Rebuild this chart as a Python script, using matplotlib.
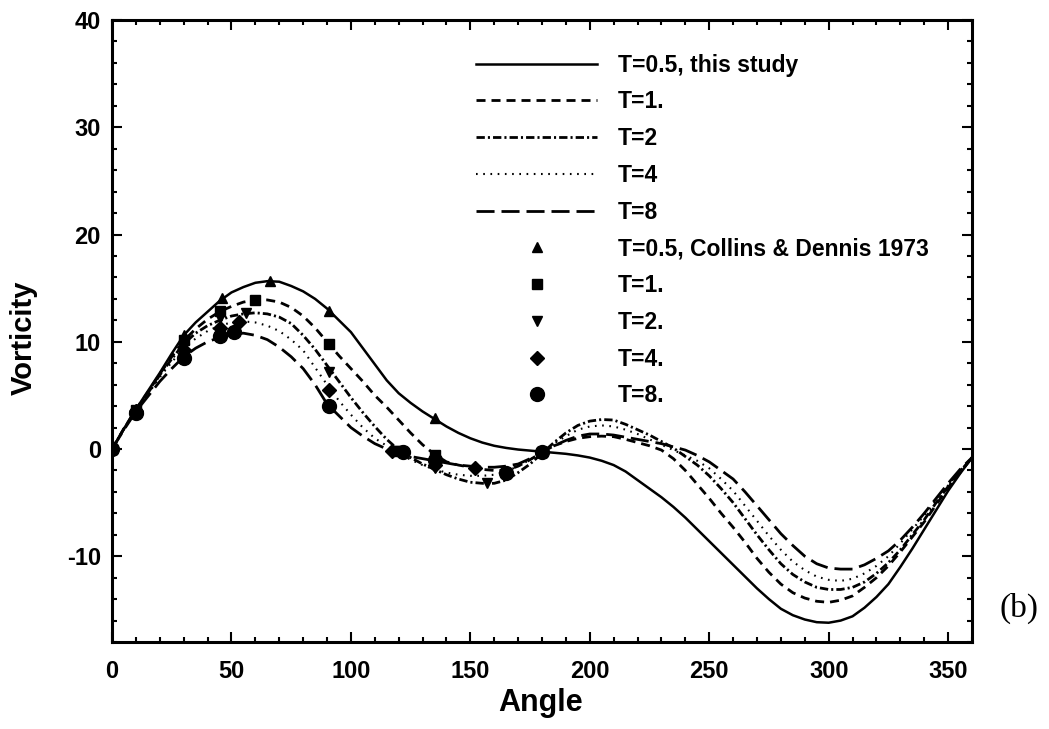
import numpy as np
import matplotlib
matplotlib.use("Agg")
import matplotlib.pyplot as plt
from matplotlib.ticker import MultipleLocator

plt.rcParams['font.family'] = ['Liberation Sans', 'DejaVu Sans']
plt.rcParams['lines.scale_dashes'] = False
plt.rcParams['axes.unicode_minus'] = False

# 角度，每5度一个点
angle = np.arange(0, 361, 5)

# 本文计算结果
w_t05 = [0, 1.9, 3.7, 5.4, 7.1, 8.9, 10.6, 11.8, 12.8, 13.8, 14.6, 15.1, 15.5, 15.65,
         15.6, 15.2, 14.7, 14.0, 13.1, 12.0, 10.9, 9.4, 7.9, 6.4, 5.2, 4.3, 3.5, 2.8,
         2.1, 1.5, 1.0, 0.6, 0.3, 0.1, -0.05, -0.15, -0.25, -0.35, -0.45, -0.6, -0.8,
         -1.1, -1.5, -2.1, -2.9, -3.7, -4.5, -5.4, -6.4, -7.5, -8.6, -9.7, -10.8, -11.9,
         -13.0, -14.0, -14.9, -15.5, -15.9, -16.15, -16.2, -16.0, -15.6, -14.8, -13.8,
         -12.6, -11.0, -9.3, -7.5, -5.7, -3.9, -2.3, -0.8]
w_t1 = [0, 1.9, 3.7, 5.3, 7.0, 8.6, 10.1, 11.2, 12.1, 12.8, 13.3, 13.7, 13.9, 13.9,
        13.7, 13.2, 12.4, 11.3, 10.0, 8.7, 7.5, 6.3, 5.0, 3.9, 2.7, 1.5, 0.4, -0.5,
        -1.2, -1.5, -1.7, -1.9, -2.0, -2.0, -1.6, -1.0, -0.3, 0.3, 0.7, 1.0, 1.15,
        1.2, 1.15, 0.9, 0.6, 0.3, -0.1, -0.9, -2.0, -3.3, -4.6, -6.0, -7.3, -8.7,
        -10.2, -11.5, -12.6, -13.4, -13.9, -14.2, -14.3, -14.1, -13.7, -12.9, -12.0,
        -10.9, -9.6, -8.2, -6.8, -5.2, -3.6, -2.2, -0.8]
w_t2 = [0, 1.9, 3.6, 5.2, 6.9, 8.4, 9.8, 10.8, 11.5, 12.0, 12.4, 12.6, 12.7, 12.6,
        12.3, 11.7, 10.6, 9.3, 7.8, 6.3, 4.8, 3.4, 2.1, 0.9, -0.1, -0.8, -1.4, -1.9,
        -2.4, -2.8, -3.1, -3.2, -3.2, -2.9, -2.2, -1.4, -0.4, 0.6, 1.5, 2.2, 2.6,
        2.75, 2.7, 2.3, 1.8, 1.3, 0.7, 0.1, -0.7, -1.5, -2.5, -3.7, -5.0, -6.5,
        -8.0, -9.4, -10.7, -11.7, -12.4, -12.9, -13.1, -13.1, -12.9, -12.4, -11.6,
        -10.6, -9.4, -8.0, -6.6, -5.0, -3.5, -2.1, -0.8]
w_t4 = [0, 1.9, 3.6, 5.1, 6.7, 8.1, 9.4, 10.3, 11.0, 11.5, 11.8, 11.9, 11.8, 11.5,
        11.0, 10.2, 9.2, 7.6, 6.0, 4.5, 3.2, 2.0, 1.0, 0.3, -0.4, -1.0, -1.5, -1.9,
        -2.2, -2.4, -2.5, -2.5, -2.4, -2.1, -1.6, -1.0, -0.3, 0.5, 1.2, 1.8, 2.1,
        2.2, 2.1, 1.8, 1.4, 0.9, 0.4, -0.1, -0.6, -1.1, -1.8, -2.8, -3.9, -5.3,
        -6.7, -8.1, -9.4, -10.5, -11.3, -11.9, -12.2, -12.3, -12.1, -11.6, -10.9,
        -10.0, -8.8, -7.5, -6.2, -4.8, -3.4, -2.0, -0.8]
w_t8 = [0, 1.8, 3.5, 4.9, 6.3, 7.5, 8.6, 9.4, 10.0, 10.4, 10.7, 10.8, 10.6, 10.2,
        9.5, 8.6, 7.5, 6.0, 4.2, 3.1, 2.0, 1.2, 0.5, 0.0, -0.4, -0.7, -0.9, -1.1,
        -1.3, -1.5, -1.6, -1.7, -1.7, -1.6, -1.4, -0.9, -0.3, 0.3, 0.8, 1.2, 1.4,
        1.4, 1.3, 1.1, 0.9, 0.7, 0.5, 0.2, -0.1, -0.6, -1.2, -2.0, -2.8, -4.0,
        -5.3, -6.6, -7.9, -9.0, -10.0, -10.7, -11.1, -11.2, -11.2, -10.8, -10.2,
        -9.5, -8.5, -7.3, -6.0, -4.6, -3.2, -1.9, -0.8]

# Collins & Dennis 1973 数据点
cd_t05_x = [0, 10, 30, 46, 66, 91, 135, 180]
cd_t05_y = [0, 3.7, 10.6, 14.1, 15.65, 12.9, 2.9, -0.3]
cd_t1_x = [0, 10, 30, 45, 60, 91, 120, 135, 165, 180]
cd_t1_y = [0, 3.6, 10.2, 12.9, 13.9, 9.8, -0.2, -0.6, -2.2, -0.3]
cd_t2_x = [0, 10, 30, 45, 56, 91, 120, 135, 157, 180]
cd_t2_y = [0, 3.5, 9.8, 12.2, 12.7, 7.2, -0.2, -1.8, -3.2, -0.3]
cd_t4_x = [0, 10, 30, 45, 53, 91, 117, 135, 152, 180]
cd_t4_y = [0, 3.5, 9.2, 11.3, 11.8, 5.5, -0.2, -1.5, -1.8, -0.3]
cd_t8_x = [0, 10, 30, 45, 51, 91, 122, 135, 165, 180]
cd_t8_y = [0, 3.4, 8.5, 10.5, 10.9, 4.0, -0.3, -1.0, -2.2, -0.3]

fig = plt.figure(figsize=(10.49, 7.29), dpi=100)
ax = fig.add_axes([0.1068, 0.1193, 0.8198, 0.8532])

l1, = ax.plot(angle, w_t05, color='k', lw=1.8, label='T=0.5, this study')
l2, = ax.plot(angle, w_t1, color='k', lw=2.0, dashes=(6.5, 4.3), label='T=1.')
l3, = ax.plot(angle, w_t2, color='k', lw=2.0, dashes=(6, 2.2, 1.5, 2.2), label='T=2')
l4, = ax.plot(angle, w_t4, color='k', lw=1.5, dashes=(1.2, 4.0), label='T=4')
l5, = ax.plot(angle, w_t8, color='k', lw=2.0, dashes=(13, 5), label='T=8')

mk = dict(color='k', linestyle='None')
m1, = ax.plot(cd_t05_x, cd_t05_y, marker='^', ms=7.5, label='T=0.5, Collins & Dennis 1973', **mk)
m2, = ax.plot(cd_t1_x, cd_t1_y, marker='s', ms=7, label='T=1.', **mk)
m3, = ax.plot(cd_t2_x, cd_t2_y, marker='v', ms=7.5, label='T=2.', **mk)
m4, = ax.plot(cd_t4_x, cd_t4_y, marker='D', ms=7, label='T=4.', **mk)
m5, = ax.plot(cd_t8_x, cd_t8_y, marker='o', ms=10, label='T=8.', **mk)

ax.set_xlim(0, 360)
ax.set_ylim(-18, 40)
ax.set_xticks(np.arange(0, 351, 50))
ax.set_yticks(np.arange(-10, 41, 10))
ax.xaxis.set_minor_locator(MultipleLocator(10))
ax.yaxis.set_minor_locator(MultipleLocator(2))
ax.tick_params(which='both', direction='in', top=True, right=True, width=1.5)
ax.tick_params(which='major', length=7, labelsize=17)
ax.tick_params(axis='x', which='major', pad=13)
ax.tick_params(axis='y', which='major', pad=8)
ax.tick_params(which='minor', length=3.5)
for lab in ax.get_xticklabels() + ax.get_yticklabels():
    lab.set_fontweight('bold')
for s in ax.spines.values():
    s.set_linewidth(2.2)

# 坐标轴标题
fig.text(541 / 1049, 1 - 703 / 729, 'Angle', fontsize=22, fontweight='bold',
         ha='center', va='center')
fig.text(24 / 1049, 1 - 338 / 729, 'Vorticity', fontsize=21, fontweight='bold',
         rotation=90, ha='center', va='center')

leg = ax.legend(handles=[l1, l2, l3, l4, l5, m1, m2, m3, m4, m5],
                loc='upper left', bbox_to_anchor=(0.423, 0.946), frameon=False,
                prop=dict(size=16.5, weight='bold'), handlelength=5.3,
                handletextpad=0.9, labelspacing=0.6, borderpad=0, borderaxespad=0)

fig.text(0.953, 0.166, '(b)', fontsize=24, family='Liberation Serif', ha='left', va='center')

fig.savefig('out.png', dpi=100)
